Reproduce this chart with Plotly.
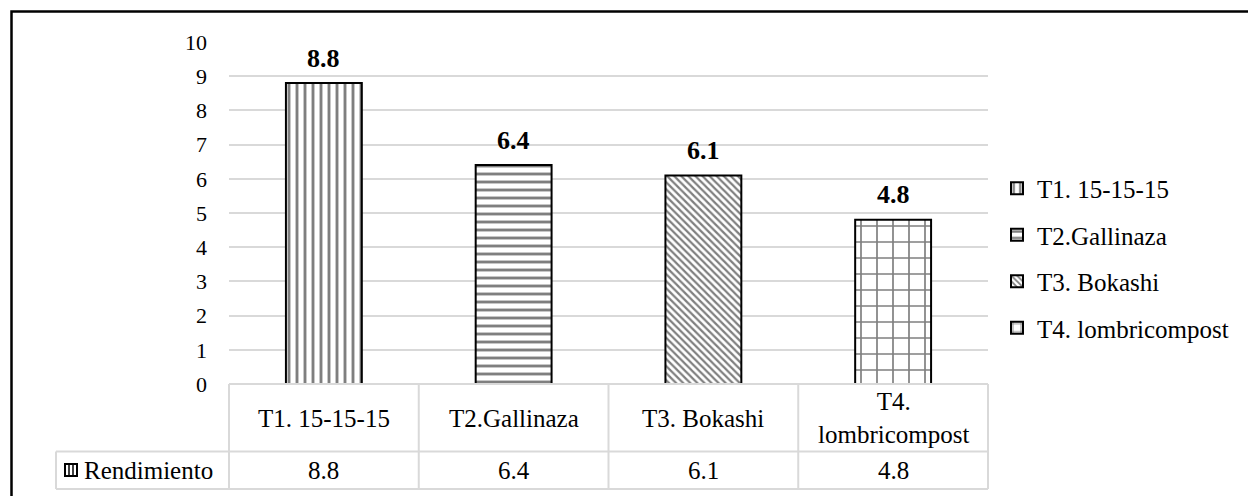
import plotly.graph_objects as go

# Yield per treatment
categories = ["T1. 15-15-15", "T2.Gallinaza", "T3. Bokashi", "T4. lombricompost"]
table_labels = ["T1. 15-15-15", "T2.Gallinaza", "T3. Bokashi", "T4.<br>lombricompost"]
values = [8.8, 6.4, 6.1, 4.8]
series_name = "Rendimiento"
y_ticks = list(range(0, 11))

# Hatch style per bar
patterns = [
    dict(shape="|", size=8, solidity=0.36),
    dict(shape="-", size=8, solidity=0.36),
    dict(shape="\\", size=5, solidity=0.45),
    dict(shape="+", size=16, solidity=0.2),
]

FONT = "Liberation Serif"
W, H = 1248, 496
L, R, T, B = 229, 260, 42, 112
plot_w, plot_h = W - L - R, H - T - B


def px_x(px):
    return (px - L) / plot_w


def px_y(py):
    return (H - B - py) / plot_h


fig = go.Figure()
for i, (cat, val) in enumerate(zip(categories, values)):
    fig.add_trace(go.Bar(
        x=[cat], y=[val], name=cat, width=0.4,
        legendgroup=cat,
        marker=dict(color="white", line=dict(color="black", width=2),
                    pattern=dict(fgcolor="black", bgcolor="white", **patterns[i])),
        hoverinfo="x+y",
    ))
    # bold value label above the bar
    fig.add_annotation(x=cat, y=val, xref="x", yref="y", text=f"<b>{val}</b>",
                       showarrow=False, yanchor="middle", yshift=25,
                       font=dict(family=FONT, size=26, color="black"))

grid = "#d9d9d9"
shapes = []
n = len(categories)
y_top, y_mid, y_bot = px_y(384), px_y(451.5), px_y(489)
x_left = px_x(56)

# data table grid
shapes.append(dict(type="line", xref="paper", yref="paper", x0=0, x1=1, y0=y_top, y1=y_top,
                   line=dict(color=grid, width=2)))
for yy in (y_mid, y_bot):
    shapes.append(dict(type="line", xref="paper", yref="paper", x0=x_left, x1=1, y0=yy, y1=yy,
                       line=dict(color=grid, width=2)))
for k in range(n + 1):
    shapes.append(dict(type="line", xref="paper", yref="paper", x0=k / n, x1=k / n,
                       y0=y_top, y1=y_bot, line=dict(color=grid, width=2)))
shapes.append(dict(type="line", xref="paper", yref="paper", x0=x_left, x1=x_left,
                   y0=y_mid, y1=y_bot, line=dict(color=grid, width=2)))

# series key in the table
kx0, kx1, ky0, ky1 = px_x(65), px_x(77), px_y(476), px_y(464)
shapes.append(dict(type="rect", xref="paper", yref="paper", x0=kx0, x1=kx1, y0=ky0, y1=ky1,
                   line=dict(color="black", width=2), fillcolor="white"))
for fx in (px_x(69), px_x(73)):
    shapes.append(dict(type="line", xref="paper", yref="paper", x0=fx, x1=fx, y0=ky0, y1=ky1,
                       line=dict(color="black", width=1.5)))

# outer chart frame
shapes.append(dict(type="rect", xref="paper", yref="paper", x0=px_x(11.5), x1=px_x(1300),
                   y0=px_y(560), y1=px_y(11.5), line=dict(color="black", width=2.5),
                   fillcolor="rgba(0,0,0,0)", layer="above"))

annotations = []
for cat, lab, val in zip(categories, table_labels, values):
    annotations.append(dict(x=cat, xref="x", y=px_y(418), yref="paper", text=lab,
                            showarrow=False, yanchor="middle",
                            font=dict(family=FONT, size=25, color="black")))
    annotations.append(dict(x=cat, xref="x", y=px_y(470), yref="paper", text=str(val),
                            showarrow=False, yanchor="middle",
                            font=dict(family=FONT, size=25, color="black")))
annotations.append(dict(x=px_x(82), xref="paper", y=px_y(470), yref="paper", text=series_name,
                        showarrow=False, xanchor="left", yanchor="middle",
                        font=dict(family=FONT, size=25, color="black")))
for a in annotations:
    fig.add_annotation(**a)

fig.update_layout(
    width=W, height=H,
    margin=dict(l=L, r=R, t=T, b=B),
    paper_bgcolor="white", plot_bgcolor="white",
    barmode="overlay",
    shapes=shapes,
    showlegend=True,
    legend=dict(x=px_x(997), y=px_y(258), xanchor="left", yanchor="middle",
                font=dict(family=FONT, size=25, color="black"),
                itemwidth=30, tracegroupgap=11, bgcolor="rgba(0,0,0,0)"),
    font=dict(family=FONT, color="black"),
)
fig.update_xaxes(range=[-0.5, n - 0.5], showticklabels=False, showgrid=False,
                 zeroline=False, showline=False, ticks="")
fig.update_yaxes(range=[0, 10], tickvals=y_ticks, showgrid=True, gridcolor=grid, gridwidth=2,
                 zeroline=False, showline=False, ticks="", ticklabelstandoff=21,
                 tickfont=dict(family=FONT, size=22, color="black"))

fig.write_html("out.html")
